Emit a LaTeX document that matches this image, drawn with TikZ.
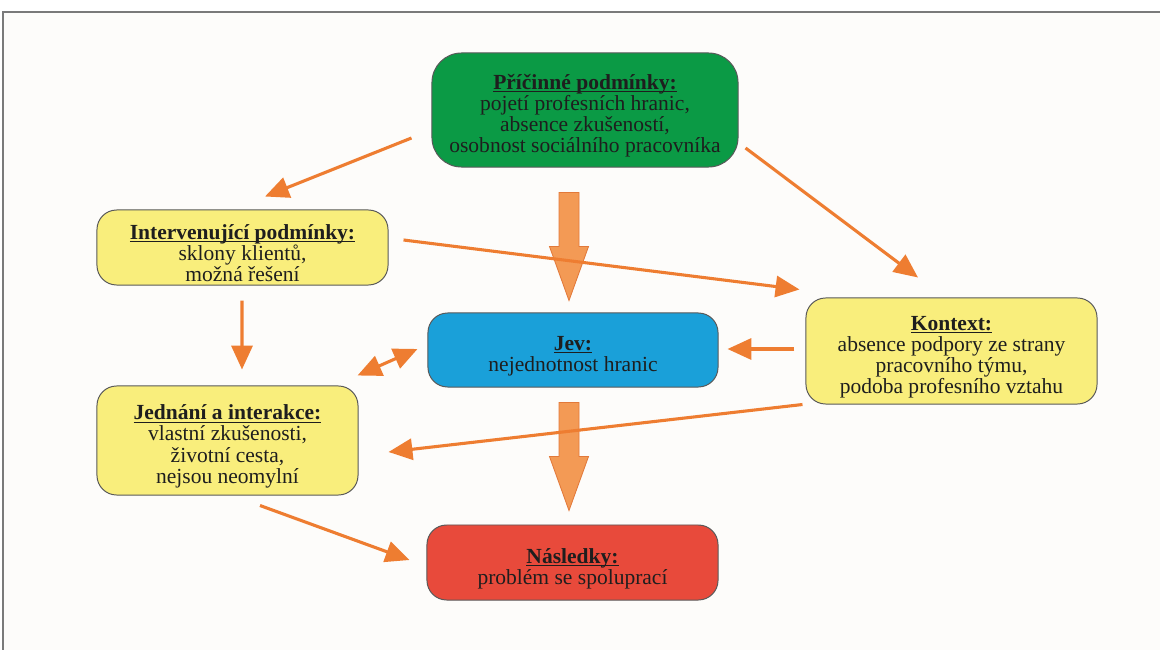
\documentclass[tikz,border=0pt]{standalone}
\usepackage{fontspec}
\setmainfont{Liberation Serif}
\usetikzlibrary{arrows.meta,calc}
\definecolor{cgreen}{HTML}{0B9A45}
\definecolor{cblue}{HTML}{1AA0D9}
\definecolor{cyellow}{HTML}{F9EE7C}
\definecolor{cred}{HTML}{E84A3B}
\definecolor{corange}{HTML}{EE7D31}
\definecolor{cbigfill}{HTML}{F39A55}
\definecolor{cbigdraw}{HTML}{E2793A}
\definecolor{ctext}{HTML}{1E1E1E}
\definecolor{cframe}{HTML}{7A7A7A}
\definecolor{cbg}{HTML}{FDFCFA}
\newcommand{\boxfont}{\fontsize{15.3}{15}\selectfont\lineskiplimit-20pt\relax}
\tikzset{
  x=0.025cm, y=-0.025cm,
  box/.style={draw=black!65, line width=0.7pt, align=center, text=ctext,
    font=\boxfont, inner sep=2pt, rounded corners=14pt},
  arr/.style={draw=corange, line width=2.2pt, -{Triangle[length=17pt,width=15pt]}},
  darr/.style={draw=corange, line width=2.2pt, {Triangle[length=17pt,width=15pt]}-{Triangle[length=17pt,width=15pt]}},
  bigarrow/.style={draw=cbigdraw, fill=cbigfill, line width=0.6pt, line join=miter},
}
\newsavebox{\ttlbox}
\newcommand{\ttl}[1]{\rule{0pt}{19pt}\sbox{\ttlbox}{\textbf{#1}}\rlap{\rule[-2pt]{\wd\ttlbox}{0.7pt}}\usebox{\ttlbox}}
\begin{document}
\begin{tikzpicture}
\useasboundingbox (0,0) rectangle (1160,650);
\fill[cbg] (3,12) rectangle (1160,650);
\draw[cframe, line width=0.8pt] (1160,12) -- (3,12) -- (3,650);

\node[box, fill=cgreen, rounded corners=21pt, minimum width=7.65cm, minimum height=2.85cm] (green) at (585,110)
  {\ttl{Příčinné podmínky:}\\pojetí profesních hranic,\\absence zkušeností,\\osobnost sociálního pracovníka};
\node[box, fill=cyellow, minimum width=7.275cm, minimum height=1.875cm] (interv) at (242.5,247.5)
  {\ttl{Intervenující podmínky:}\\sklony klientů,\\možná řešení};
\node[box, fill=cyellow, minimum width=7.275cm, minimum height=2.65cm] (kontext) at (951.5,351)
  {\ttl{Kontext:}\\absence podpory ze strany\\pracovního týmu,\\podoba profesního vztahu};
\node[box, fill=cblue, minimum width=7.25cm, minimum height=1.85cm] (jev) at (573,350)
  {\ttl{Jev:}\\nejednotnost hranic};
\node[box, fill=cyellow, minimum width=6.525cm, minimum height=2.725cm] (jednani) at (227.5,440.5)
  {\ttl{Jednání a interakce:}\\vlastní zkušenosti,\\životní cesta,\\nejsou neomylní};
\node[box, fill=cred, minimum width=7.275cm, minimum height=1.875cm] (nasledky) at (572.5,562.5)
  {\ttl{Následky:}\\problém se spoluprací};

% big block arrows
\draw[bigarrow] ([shift={(-16,25)}]green.south) ++(-10,0) -- ++(0,54) -- ++(-9.5,0) -- ++(19.5,54) -- ++(19.5,-54) -- ++(-9.5,0) -- ++(0,-54) -- cycle;
\draw[bigarrow] ([shift={(-4,15)}]jev.south) ++(-10,0) -- ++(0,54) -- ++(-9.5,0) -- ++(19.5,54) -- ++(19.5,-54) -- ++(-9.5,0) -- ++(0,-54) -- cycle;

% thin arrows
\draw[arr] ([shift={(-20,28)}]green.west) -- ([shift={(22.5,-13)}]interv.north);
\draw[arr] ([shift={(7,38)}]green.east) -- ([shift={(-33.5,-20)}]kontext.north);
\draw[arr] ([shift={(15,-7.5)}]interv.east) -- ([shift={(-6,-8)}]kontext.north west);
\draw[arr] ([shift={(-0.5,15)}]interv.south) -- ([shift={(14.5,-16)}]jednani.north);
\draw[darr] ([shift={(-1,-10)}]jednani.north east) -- ([shift={(-10,-1)}]jev.west);
\draw[arr] ([shift={(-11,-2)}]kontext.west) -- ([shift={(9,-1)}]jev.east);
\draw[arr] ([shift={(-3,0)}]kontext.south west) -- ([shift={(30,11.5)}]jednani.east);
\draw[arr] ([shift={(32.5,10)}]jednani.south) -- ([shift={(-17,-2.5)}]nasledky.west);
\end{tikzpicture}
\end{document}
